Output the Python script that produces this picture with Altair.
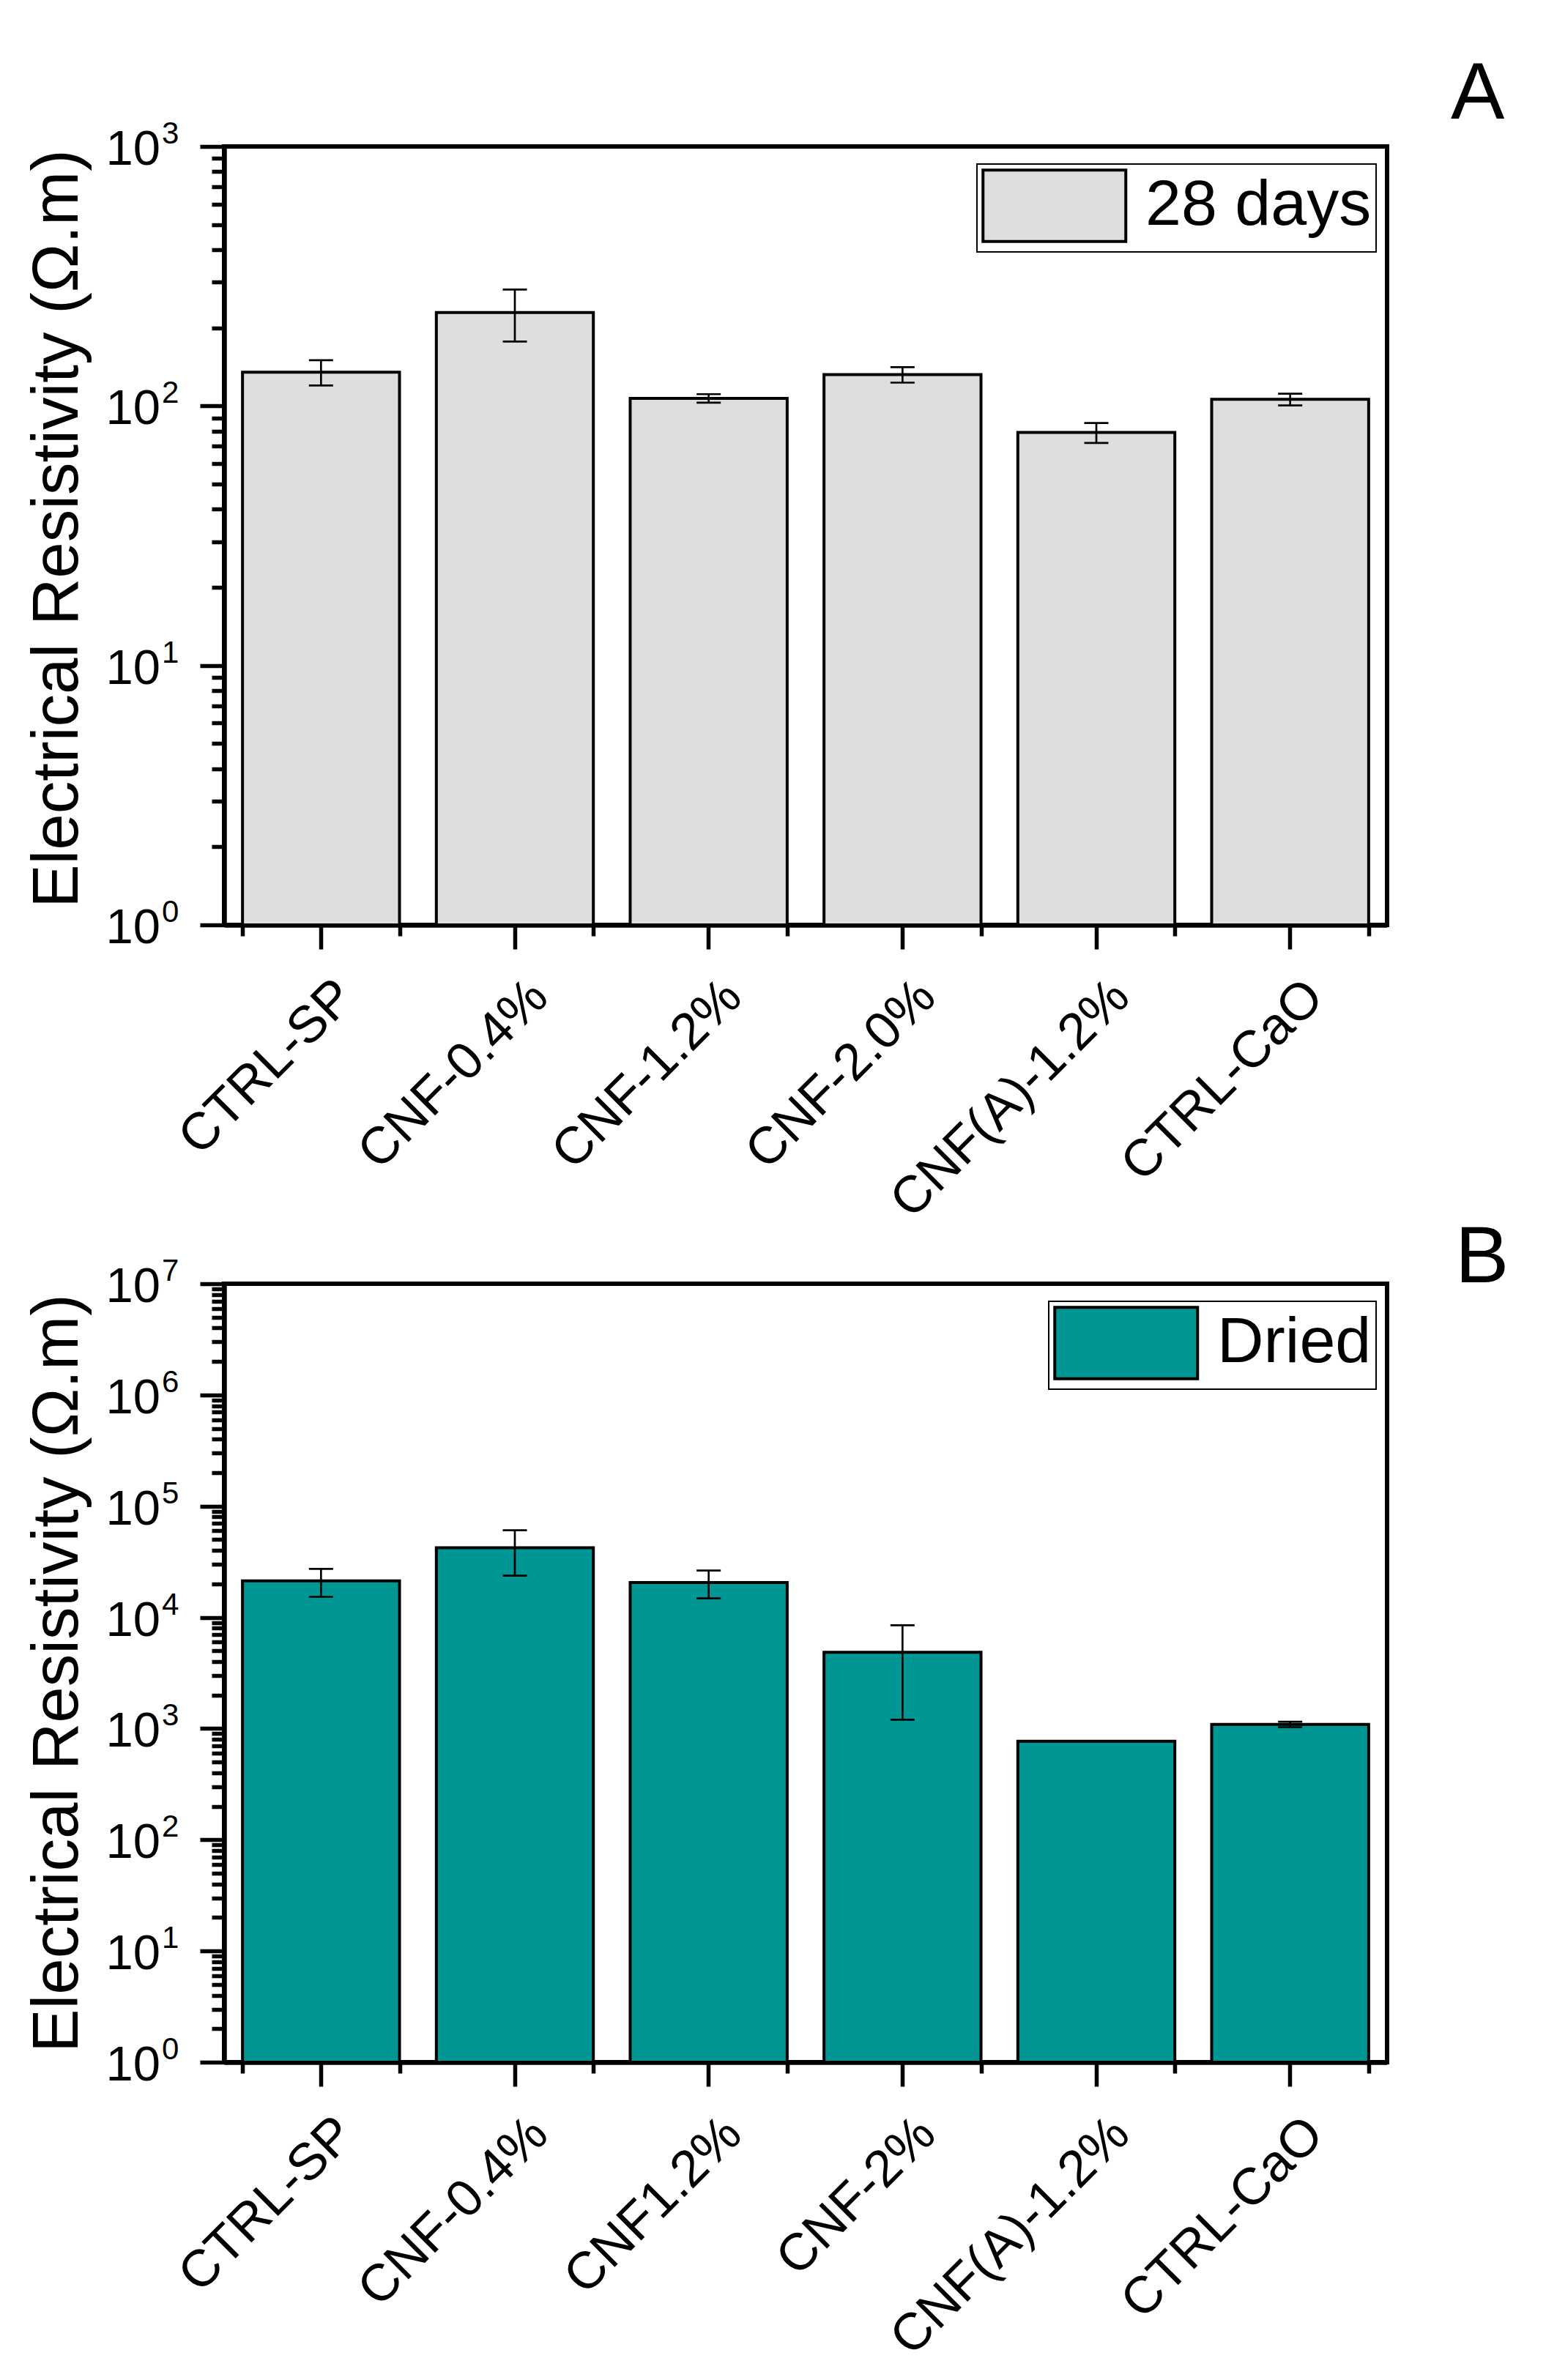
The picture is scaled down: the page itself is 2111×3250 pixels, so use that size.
import altair as alt
import pandas as pd

FONT = "Liberation Sans"

# ---- data ----
cats_a = ["CTRL-SP", "CNF-0.4%", "CNF-1.2%", "CNF-2.0%", "CNF(A)-1.2%", "CTRL-CaO"]
vals_a = [135, 229, 107, 132, 79, 106]
errs_a = [15, 52, 4, 9, 7, 5.5]

cats_b = ["CTRL-SP", "CNF-0.4%", "CNF1.2%", "CNF-2%", "CNF(A)-1.2%", "CTRL-CaO"]
vals_b = [21300, 42200, 20600, 4850, 770, 1090]
errs_b = [6000, 18500, 5800, 3650, None, 60]

decades_a = [0, 1, 2, 3]
decades_b = [0, 1, 2, 3, 4, 5, 6, 7]

series_a = "28 days"
series_b = "Dried"
color_a = "#DEDEDE"
color_b = "#009694"

YTITLE = "Electrical Resistivity (\u03a9.m)"
W, H = 1588, 1063


def panel(cats, vals, errs, series, color, decades, letter, letter_x, letter_y,
          legend_x, legend_y, title_y):
    df = pd.DataFrame({"cat": cats, "val": vals, "err": errs})
    df["series"] = series
    df["lo"] = df["val"] - df["err"]
    df["hi"] = df["val"] + df["err"]
    major = [10 ** d for d in decades]
    minor = [m * 10 ** d for d in decades[:-1] for m in range(2, 10)]
    yscale = alt.Scale(type="log", domain=[1, major[-1]], nice=False)
    xscale = alt.Scale(paddingInner=0.19, paddingOuter=0.095)

    base = alt.Chart(df)
    bars = base.mark_bar(stroke="black", strokeWidth=4, opacity=1).encode(
        x=alt.X("cat:N", sort=cats, scale=xscale,
                axis=alt.Axis(title=None, labelAngle=315, labelAlign="right",
                              labelBaseline="middle", labelFont=FONT, labelFontSize=71,
                              labelColor="black", labelPadding=54, labelOffset=34,
                              labelLimit=0, tickSize=33, tickWidth=5.5, tickColor="black",
                              domainWidth=6.5, domainColor="black", grid=False)),
        y=alt.Y("val:Q", scale=yscale,
                axis=alt.Axis(values=major, labels=False, tickSize=33, tickWidth=5.5,
                              tickColor="black", domainWidth=6.5, domainColor="black",
                              grid=False, title=YTITLE, titleFont=FONT, titleFontSize=89,
                              titleFontWeight="normal", titleColor="black",
                              titlePadding=146, titleY=title_y)),
        y2=alt.datum(1),
        color=alt.Color("series:N", scale=alt.Scale(domain=[series], range=[color]),
                        legend=alt.Legend(title=None, orient="none", legendX=legend_x,
                                          legendY=legend_y,
                                          symbolType="M-1,-1H3V1H-1Z",
                                          symbolSize=9506, symbolStrokeColor="black",
                                          symbolStrokeWidth=4, symbolOpacity=1,
                                          labelFont=FONT, labelFontSize=88,
                                          labelBaseline="middle",
                                          labelColor="black", labelOffset=122,
                                          labelLimit=0, padding=6, strokeColor="black")),
    )

    witherr = base.transform_filter("isValid(datum.err)")
    err_rule = witherr.mark_rule(color="black", strokeWidth=2.7).encode(
        x=alt.X("cat:N", sort=cats, scale=xscale,
                axis=alt.Axis(title=None, orient="bottom", tickBand="extent", labels=False,
                              domain=False, tickSize=15, tickWidth=5.5, tickColor="black",
                              grid=False)),
        y=alt.Y("lo:Q", scale=yscale,
                axis=alt.Axis(orient="left", values=minor, labels=False, domain=False,
                              tickSize=17, tickWidth=5.5, tickColor="black", grid=False,
                              title=None)),
        y2="hi:Q",
    )
    cap_lo = witherr.mark_tick(color="black", thickness=2.7, size=33, opacity=1).encode(
        x=alt.X("cat:N", sort=cats, scale=xscale, axis=None),
        y=alt.Y("lo:Q", scale=yscale, axis=None),
    )
    cap_hi = witherr.mark_tick(color="black", thickness=2.7, size=33, opacity=1).encode(
        x=alt.X("cat:N", sort=cats, scale=xscale, axis=None),
        y=alt.Y("hi:Q", scale=yscale, axis=None),
    )

    dec_df = pd.DataFrame({"v": major, "b": ["10"] * len(major),
                           "e": [str(d) for d in decades]})
    lab10 = alt.Chart(dec_df).mark_text(align="right", baseline="alphabetic", dy=25,
                                        font=FONT, fontSize=67, color="black").encode(
        x=alt.value(-87), y=alt.Y("v:Q", scale=yscale, axis=None), text="b:N")
    labexp = alt.Chart(dec_df).mark_text(align="left", baseline="alphabetic", dy=-4,
                                         font=FONT, fontSize=42, color="black").encode(
        x=alt.value(-85), y=alt.Y("v:Q", scale=yscale, axis=None), text="e:N")

    let = alt.Chart(pd.DataFrame({"t": [letter]})).mark_text(
        align="left", baseline="alphabetic", font=FONT, fontSize=110, color="black").encode(
        x=alt.value(letter_x), y=alt.value(letter_y), text="t:N")

    return alt.layer(bars, err_rule, cap_lo, cap_hi, lab10, labexp, let).resolve_axis(
        x="independent", y="independent").properties(width=W, height=H)


pa = panel(cats_a, vals_a, errs_a, series_a, color_a, decades_a, "A", 1675, -38,
           1028, 24, H / 2 - 10)
pb = panel(cats_b, vals_b, errs_b, series_b, color_b, decades_b, "B", 1681, -2,
           1126, 24, H / 2)

chart = alt.vconcat(pa, pb, spacing=490, bounds="flush").resolve_scale(
    x="independent", y="independent", color="independent").resolve_legend(
    color="independent").properties(
    padding={"left": 23, "top": 63, "right": 10, "bottom": 10}
).configure_view(stroke="black", strokeWidth=6).configure_legend(strokeWidth=2)

chart.save("out.html", embed_options={"renderer": "svg", "actions": False})
